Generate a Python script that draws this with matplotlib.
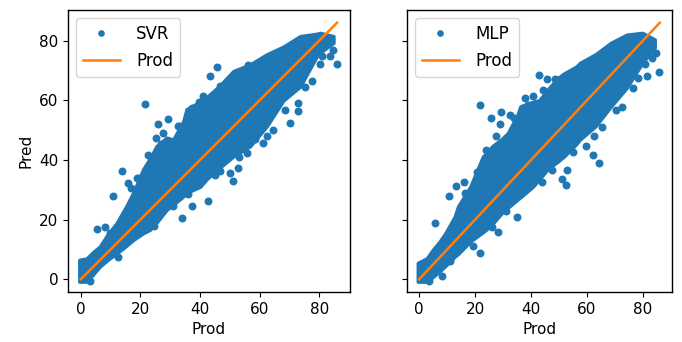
import matplotlib
matplotlib.use('Agg')
import matplotlib.pyplot as plt

plt.rcParams['font.size'] = 11

# actual production range (reference line)
prod_line = [0, 86]

# dense cloud envelope (x, lower, upper)
svr_band_x = [-0.5, 2, 4, 6.4, 9, 12, 15, 17.6, 21, 23.2, 25.4, 28.8, 31, 34.4, 35.5, 40,
              42.2, 45.6, 46.7, 51.2, 56.8, 62.4, 68, 73.6, 79.2, 80.3, 84.8]
svr_lo = [-0.8, -0.8, 1.5, 4.3, 6.5, 8.7, 11.0, 13.2, 15.5, 16.6, 19.0, 23.3, 25.0, 27.8, 29.0, 31.0,
          33.5, 36.7, 37.5, 41.2, 44.6, 51.3, 60.0, 64.6, 74.8, 76.0, 79.3]
svr_hi = [6.5, 7.0, 9.0, 11.0, 15.0, 18.8, 24.0, 29.0, 37.0, 40.5, 44.6, 47.5, 46.8, 53.0, 57.0, 59.5,
          61.0, 64.0, 65.0, 69.8, 72.0, 75.4, 78.0, 81.5, 82.3, 82.6, 81.5]

# scattered points outside / on the edge of the cloud
svr_x = [21.7, 25.8, 29.3, 27.7, 25.4, 32.7, 13.9, 10.9, 15.7, 18.7, 5.3, 8.0, 9.7, 43.3, 45.8,
         46.7, 48.9, 39.6, 37.2, 56.2, 61.2, 33.8, 42.8, 37.4, 31.0, 51.2, 52.9, 50.0, 46.7, 55.7,
         62.4, 61.2, 64.6, 68.5, 73.0, 72.8, 75.2, 77.5, 80.3, 84.8, 85.9, 83.6, 80.9, 70.2,
         17.0, 19.5, 22.5, 27.0, 33.0, 38.0, 41.0, 12.5, 3.0, 24.5, 30.5, 36.0, 45.0, 53.0, 58.5]
svr_y = [58.8, 52.2, 53.8, 49.0, 47.4, 51.3, 36.4, 27.8, 32.3, 33.9, 17.0, 17.5, 15.5, 68.1, 71.1,
         64.7, 65.3, 59.4, 57.4, 71.7, 73.1, 20.5, 26.4, 24.4, 24.4, 32.8, 37.3, 35.6, 36.2, 42.3,
         47.9, 45.7, 50.2, 56.9, 56.3, 59.1, 64.3, 66.4, 72.0, 77.0, 72.0, 74.8, 74.8, 52.4,
         30.5, 34.0, 41.5, 45.5, 51.5, 57.0, 61.5, 7.5, -0.5, 18.0, 26.0, 28.5, 35.0, 41.0, 47.0]

mlp_band_x = [-0.5, 2.7, 4.9, 7.2, 9.4, 12.7, 13.9, 18.3, 22.8, 23.9, 26.1, 29.5, 31.7, 35.1, 36.2,
              40.7, 42.9, 46.3, 49.6, 51.8, 56.3, 57.4, 63.0, 68.6, 74.2, 79.8, 84.2]
mlp_lo = [-0.8, -0.8, 0.8, 2.6, 4.5, 7.6, 8.5, 12.7, 15.8, 16.6, 18.5, 22.2, 24.0, 26.7, 27.5,
          31.1, 33.5, 37.3, 39.5, 41.2, 45.5, 46.8, 51.3, 58.0, 64.2, 72.6, 77.6]
mlp_hi = [5.5, 7.0, 9.9, 12.5, 15.5, 21.0, 24.4, 31.1, 41.2, 42.0, 44.6, 47.0, 49.0, 55.0, 58.0,
          59.5, 60.0, 64.0, 67.5, 69.0, 71.4, 72.5, 75.4, 79.3, 82.0, 82.6, 80.4]

mlp_x = [5.5, 10.5, 13.3, 15.9, 27.3, 25.6, 29.2, 28.9, 32.5, 21.7, 37.9, 40.7, 42.9, 44.4, 45.7,
         48.5, 8.3, 21.9, 19.4, 28.2, 34.9, 52.5, 51.1, 53.0, 47.4, 62.2, 64.4, 59.7, 62.5, 65.5,
         70.3, 72.5, 76.4, 78.1, 80.6, 83.1, 84.8, 85.9, 81.5,
         16.5, 20.5, 24.0, 34.0, 39.0, 3.5, 11.0, 26.0, 31.0, 44.0, 55.0]
mlp_y = [19.0, 27.8, 31.1, 32.5, 47.9, 53.9, 56.1, 52.1, 55.2, 58.3, 60.6, 61.4, 68.6, 63.6, 67.0,
         67.0, 1.1, 8.7, 11.2, 15.8, 21.0, 31.7, 33.7, 36.7, 36.7, 41.8, 39.0, 44.6, 47.9, 51.1,
         56.9, 57.8, 64.2, 67.5, 72.0, 74.2, 75.9, 69.4, 68.1,
         29.0, 36.0, 43.5, 54.0, 58.5, -0.5, 6.0, 17.5, 23.0, 32.5, 42.5]

blue = '#1f77b4'
orange = '#ff7f0e'

fig = plt.figure(figsize=(6.82, 3.42), dpi=100)
ax1 = fig.add_axes([0.0997, 0.146, 0.4133, 0.825])
ax2 = fig.add_axes([0.597, 0.146, 0.388, 0.825], sharey=ax1)

panels = [
    (ax1, 'SVR', svr_band_x, svr_lo, svr_hi, svr_x, svr_y),
    (ax2, 'MLP', mlp_band_x, mlp_lo, mlp_hi, mlp_x, mlp_y),
]
for ax, name, bx, lo, hi, px, py in panels:
    ax.fill_between(bx, lo, hi, color=blue, linewidth=2.5, edgecolor=blue)
    ax.plot(px, py, 'o', color=blue, markersize=4.7, label=name)
    ax.plot(prod_line, prod_line, color=orange, linewidth=1.8, label='Prod')
    ax.set_xlim(-4.3, 90.3)
    ax.set_ylim(-4.3, 90.3)
    ax.set_xticks([0, 20, 40, 60, 80])
    ax.set_yticks([0, 20, 40, 60, 80])
    ax.set_xlabel('Prod')
    ax.legend(loc='upper left', fontsize=12, handlelength=2.2, handletextpad=1.0,
              labelspacing=0.55, markerscale=0.8)
    for s in ax.spines.values():
        s.set_linewidth(1.0)

ax1.set_ylabel('Pred')
plt.setp(ax2.get_yticklabels(), visible=False)

fig.savefig('out.png', dpi=100)
